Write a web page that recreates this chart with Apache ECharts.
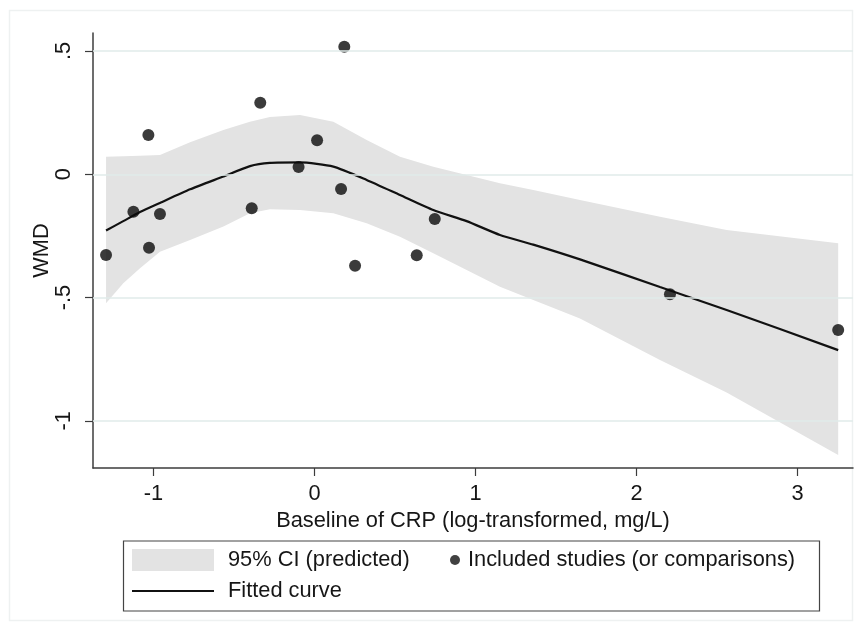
<!DOCTYPE html>
<html>
<head>
<meta charset="utf-8">
<script src="https://cdn.jsdelivr.net/npm/echarts@6/dist/echarts.min.js"></script>
<style>
html,body{margin:0;padding:0;background:#fff;}
#chart{width:862px;height:633px;}
</style>
</head>
<body>
<div id="chart"></div>
<script>
// ---- data ----
const xTicks = [-1, 0, 1, 2, 3];
const xTickLabels = ['-1', '0', '1', '2', '3'];
const yTicks = [-1, -0.5, 0, 0.5];
const yTickLabels = ['-1', '-.5', '0', '.5'];

const studyX   = [-1.295, -1.125, -1.032, -1.028, -0.960, -0.390, -0.337, -0.099, 0.016, 0.185, 0.165, 0.252, 0.635, 0.747, 2.208, 3.253];
const studyWMD = [-0.327, -0.152, 0.159, -0.298, -0.161, -0.138, 0.290, 0.030, 0.138, 0.517, -0.060, -0.371, -0.328, -0.181, -0.486, -0.631];

const curveX  = [-1.295, -1.188, -1.084, -0.960, -0.773, -0.566, -0.401, -0.277, -0.090, 0.117, 0.324, 0.531, 0.738, 0.945, 1.152, 1.359, 1.649, 2.146, 2.560, 3.253];
const fitY    = [-0.228, -0.190, -0.153, -0.116, -0.061, -0.009, 0.033, 0.046, 0.048, 0.031, -0.023, -0.084, -0.145, -0.190, -0.246, -0.285, -0.345, -0.457, -0.550, -0.713];
const ciUpper = [0.071, 0.073, 0.075, 0.078, 0.130, 0.180, 0.213, 0.232, 0.240, 0.213, 0.139, 0.071, 0.031, -0.003, -0.036, -0.064, -0.104, -0.172, -0.226, -0.280];
const ciLower = [-0.523, -0.442, -0.381, -0.314, -0.266, -0.212, -0.158, -0.142, -0.145, -0.158, -0.199, -0.253, -0.320, -0.388, -0.456, -0.510, -0.585, -0.753, -0.885, -1.138];

const xTitle = 'Baseline of CRP (log-transformed, mg/L)';
const yTitle = 'WMD';
const nameCI = '95% CI (predicted)';
const nameStudies = 'Included studies (or comparisons)';
const nameFit = 'Fitted curve';

// ---- chart ----
const FONT = "'Liberation Sans', Arial, Helvetica, sans-serif";
const FS = 21.8;
const TXT = '#161616';
const AX = '#3c3c3c';

function lookup(ticks, labels, v) {
  for (let i = 0; i < ticks.length; i++) if (Math.abs(ticks[i] - v) < 1e-9) return labels[i];
  return '';
}

const chart = echarts.init(document.getElementById('chart'), null, {renderer: 'canvas'});

const option = {
  animation: false,
  backgroundColor: '#ffffff',
  textStyle: {fontFamily: FONT},
  grid: {left: 93, right: 9, top: 33, bottom: 165, containLabel: false},
  xAxis: {
    type: 'value',
    min: -1.376, max: 3.345,
    name: xTitle,
    nameLocation: 'middle',
    nameGap: 42,
    nameMoveOverlap: false,
    nameTextStyle: {fontSize: FS, color: TXT, fontFamily: FONT},
    axisLine: {show: true, onZero: false, lineStyle: {color: AX, width: 1.5}},
    axisTick: {show: true, length: 8, inside: false, customValues: xTicks, lineStyle: {color: AX, width: 1.2}},
    axisLabel: {customValues: xTicks, margin: 15, fontSize: FS, color: TXT, fontFamily: FONT,
      formatter: v => lookup(xTicks, xTickLabels, v)},
    splitLine: {show: false}
  },
  yAxis: {
    type: 'value',
    min: -1.191, max: 0.573,
    name: yTitle,
    nameLocation: 'middle',
    nameGap: 40,
    nameRotate: 90,
    nameMoveOverlap: false,
    nameTextStyle: {fontSize: FS, color: TXT, fontFamily: FONT},
    axisLine: {show: true, onZero: false, lineStyle: {color: AX, width: 1.5}},
    axisTick: {show: true, length: 8, inside: false, customValues: yTicks, lineStyle: {color: AX, width: 1.2}},
    axisLabel: {customValues: yTicks, rotate: 90, margin: 18, fontSize: FS, color: TXT, fontFamily: FONT,
      formatter: v => lookup(yTicks, yTickLabels, v)},
    splitLine: {show: false}
  },
  legend: [
    {
      orient: 'vertical',
      left: 132, top: 549,
      padding: 0,
      itemWidth: 82, itemHeight: 22, itemGap: 9,
      selectedMode: false,
      textStyle: {fontSize: FS, color: TXT, fontFamily: FONT, lineHeight: 22, padding: [0, 0, 0, 9]},
      data: [
        {name: nameCI, icon: 'rect', itemStyle: {color: '#e3e3e3'}},
        {name: nameFit, icon: 'path://M0 0H82V2H0Z', itemStyle: {color: '#111111'}}
      ]
    },
    {
      orient: 'horizontal',
      left: 450, top: 549,
      padding: 0,
      itemWidth: 10, itemHeight: 10,
      selectedMode: false,
      textStyle: {fontSize: FS, color: TXT, fontFamily: FONT, lineHeight: 22, padding: [0, 0, 0, 3]},
      data: [{name: nameStudies, icon: 'circle', itemStyle: {color: '#111111'}}]
    }
  ],
  graphic: [
    {type: 'rect', silent: true, z: -10,
     shape: {x: 9.5, y: 10.5, width: 843, height: 610},
     style: {fill: null, stroke: '#eef1f1', lineWidth: 1.5}},
    {type: 'rect', silent: true,
     shape: {x: 123.5, y: 541, width: 696, height: 70},
     style: {fill: null, stroke: '#444444', lineWidth: 1.2}}
  ],
  series: [
    {
      name: 'grid',
      type: 'line',
      data: [],
      z: 1,
      silent: true,
      markLine: {
        silent: true,
        symbol: ['none', 'none'],
        label: {show: false},
        lineStyle: {color: '#e1ebea', width: 1.5, type: 'solid'},
        data: yTicks.map(v => ({yAxis: v}))
      }
    },
    {
      name: nameCI,
      type: 'custom',
      z: 2,
      silent: true,
      itemStyle: {color: '#e3e3e3'},
      data: [0],
      renderItem: function (params, api) {
        const pts = [];
        for (let i = 0; i < curveX.length; i++) pts.push(api.coord([curveX[i], ciUpper[i]]));
        for (let i = curveX.length - 1; i >= 0; i--) pts.push(api.coord([curveX[i], ciLower[i]]));
        return {type: 'polygon', shape: {points: pts}, style: {fill: '#e3e3e3', stroke: null}};
      }
    },
    {
      name: nameFit,
      type: 'line',
      z: 3,
      data: curveX.map((x, i) => [x, fitY[i]]),
      showSymbol: false,
      symbol: 'none',
      smooth: 0.2,
      lineStyle: {color: '#111111', width: 2.2},
      itemStyle: {color: '#111111'}
    },
    {
      name: nameStudies,
      type: 'scatter',
      z: 4,
      data: studyX.map((x, i) => [x, studyWMD[i]]),
      symbol: 'circle',
      symbolSize: 12,
      itemStyle: {color: '#0a0a0a'}
    }
  ]
};
chart.setOption(option);
</script>
</body>
</html>
